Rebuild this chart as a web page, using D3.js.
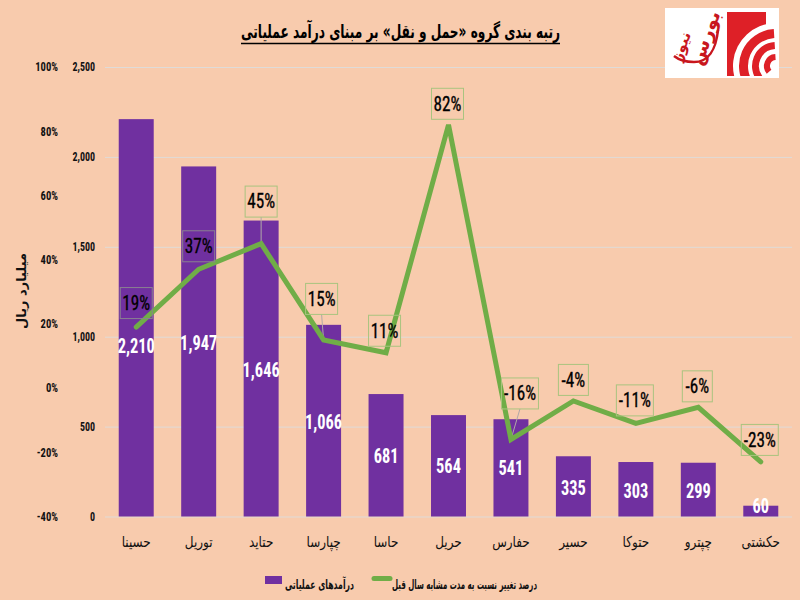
<!DOCTYPE html>
<html>
<head>
<meta charset="utf-8">
<script src="https://cdn.jsdelivr.net/npm/d3@7"></script>
<style>
html, body { margin: 0; padding: 0; background: #f8cbad; }
svg { display: block; }
text { font-family: "Liberation Sans Narrow", "Roboto Condensed", "Liberation Sans", sans-serif; }
.fa { font-family: "DejaVu Sans", "Noto Sans", sans-serif; font-weight: bold; }
</style>
</head>
<body>
<svg id="vis" width="800" height="600"></svg>
<script>
// values
var names = ['حسینا', 'توریل', 'حتاید', 'چپارسا', 'حاسا', 'حریل', 'حفارس', 'حسیر', 'حتوکا', 'چپترو', 'حکشتی'];
var revenue = [2210, 1947, 1646, 1066, 681, 564, 541, 335, 303, 299, 60];
var change = [19, 37, 45, 15, 11, 82, -16, -4, -11, -6, -23];
var revenueTicks = [0, 500, 1000, 1500, 2000, 2500];
var changeTicks = [-40, -20, 0, 20, 40, 60, 80, 100];

var titleText = 'رتبه بندی گروه «حمل و نقل» بر مبنای درآمد عملیاتی';
var yTitle = 'میلیارد ریال';
var legendBar = 'درآمدهای عملیاتی';
var legendLine = 'درصد تغییر نسبت به مدت مشابه سال قبل';
var logoWords = ['بورس', 'نیوز'];

// hand placed label boxes, relative to the line point (dx, dy of the box centre)
var boxShift = [[0, -24], [0, -23], [0, -42], [-2, -41], [-1.5, -22], [-1, -21], [9, -46], [0, -21], [-1, -23], [-1, -21], [-1, -22]];
var boxWidth = [32, 32, 32, 32, 32, 32, 37, 30, 37, 30, 37];
var boxHeight = 31;
var leaderIdx = [2, 3, 6]; // only these boxes have a leader line
var barLabelShift = [30, 3, 3, 3, 2, 2, 2, 3, 3, 3, -3]; // first and last were dragged in the original

var svg = d3.select('#vis');
var top_ = 67, bottom = 516.5;

var x = d3.scaleBand().domain(names).range([105, 792]).paddingInner(0.44).paddingOuter(0.22);
var y = d3.scaleLinear().domain([0, 2500]).range([bottom, top_]);
var y2 = d3.scaleLinear().domain([-40, 100]).range([bottom, top_]);
var cx = function(d) { return x(d) + x.bandwidth() / 2; };

// persian text is squeezed to the width it has in the picture
function squeeze(sel, width) {
	sel.attr('textLength', width).attr('lengthAdjust', 'spacingAndGlyphs');
	return sel;
}

// gridlines + left axis
var axisL = d3.axisLeft(y).tickValues(revenueTicks).tickFormat(d3.format(',')).tickSize(-687);
var gL = svg.append('g').attr('transform', 'translate(105,0)').call(axisL);
gL.select('.domain').remove();
gL.selectAll('line').attr('stroke', '#dfdbd8').attr('stroke-width', 1);
gL.selectAll('text').attr('x', -12).attr('transform', 'scale(0.83,1)')
	.attr('fill', '#111').style('font-size', '12px').style('font-weight', 'bold');

// percent axis
var axisP = d3.axisLeft(y2).tickValues(changeTicks).tickFormat(function(d) { return d + '%'; }).tickSize(0).tickPadding(0);
var gP = svg.append('g').attr('transform', 'translate(58,0)').call(axisP);
gP.select('.domain').remove();
gP.selectAll('text').attr('transform', 'scale(0.88,1)')
	.attr('fill', '#111').style('font-size', '12px').style('font-weight', 'bold');

// bars
svg.append('g').selectAll('rect').data(revenue).join('rect')
	.attr('x', function(d, i) { return x(names[i]); })
	.attr('y', function(d) { return y(d); })
	.attr('width', x.bandwidth())
	.attr('height', function(d) { return bottom - y(d); })
	.attr('fill', '#7030a0');

// bar labels
svg.append('g').selectAll('text').data(revenue).join('text')
	.attr('transform', function(d, i) {
		return 'translate(' + cx(names[i]) + ',' + ((y(d) + bottom) / 2 + barLabelShift[i]) + ') scale(0.82,1)';
	})
	.attr('text-anchor', 'middle').attr('dominant-baseline', 'middle')
	.attr('fill', '#fff').style('font-size', '20px').style('font-weight', 'bold')
	.text(d3.format(','));

// leader lines
svg.append('g').selectAll('line').data(leaderIdx).join('line')
	.attr('x1', function(i) { return cx(names[i]); })
	.attr('y1', function(i) { return y2(change[i]); })
	.attr('x2', function(i) { return cx(names[i]) + boxShift[i][0]; })
	.attr('y2', function(i) { return y2(change[i]) + boxShift[i][1] + boxHeight / 2; })
	.attr('stroke', '#b0a8a8').attr('stroke-width', 1);

// line
var line = d3.line().x(function(d, i) { return cx(names[i]); }).y(function(d) { return y2(d); });
svg.append('path').datum(change).attr('d', line)
	.attr('fill', 'none').attr('stroke', '#70ad47').attr('stroke-width', 5)
	.attr('stroke-linecap', 'round').attr('stroke-linejoin', 'miter');

// percent boxes
var boxes = svg.append('g').selectAll('g').data(change).join('g')
	.attr('transform', function(d, i) {
		return 'translate(' + (cx(names[i]) + boxShift[i][0]) + ',' + (y2(d) + boxShift[i][1]) + ')';
	});
boxes.append('rect')
	.attr('x', function(d, i) { return -boxWidth[i] / 2; }).attr('y', -boxHeight / 2)
	.attr('width', function(d, i) { return boxWidth[i]; }).attr('height', boxHeight)
	.attr('fill', 'none').attr('stroke', function(d, i) { return i < 2 ? '#8a8090' : '#a9c47f'; }).attr('stroke-width', 1);
boxes.append('text').attr('text-anchor', 'middle').attr('dominant-baseline', 'middle')
	.attr('transform', 'translate(0,1.5) scale(0.86,1)')
	.attr('fill', '#000').style('font-size', '20px').style('stroke', '#000').style('stroke-width', '0.3px')
	.text(function(d) { return d + '%'; });

// category labels
svg.append('g').selectAll('text').data(names).join('text')
	.attr('class', 'fa')
	.attr('transform', function(d) { return 'translate(' + cx(d) + ',547) scale(0.8,1)'; })
	.attr('text-anchor', 'middle').attr('fill', '#111').style('font-size', '15px').style('font-weight', 'normal')
	.text(function(d) { return d; });

// title
squeeze(svg.append('text').attr('class', 'fa').attr('x', 241).attr('y', 38)
	.attr('fill', '#000').style('font-size', '19px').text(titleText), 319);
svg.append('line').attr('x1', 241).attr('x2', 560).attr('y1', 43.5).attr('y2', 43.5).attr('stroke', '#000').attr('stroke-width', 1.5);

// y title
svg.append('text').attr('class', 'fa').attr('transform', 'translate(26,291) rotate(-90)')
	.attr('text-anchor', 'middle').attr('fill', '#111').style('font-size', '13px').text(yTitle);

// legend
svg.append('rect').attr('x', 265).attr('y', 576).attr('width', 17).attr('height', 8).attr('fill', '#7030a0');
squeeze(svg.append('text').attr('class', 'fa').attr('x', 285).attr('y', 589).attr('fill', '#111').style('font-size', '13px').text(legendBar), 69);
svg.append('line').attr('x1', 374).attr('x2', 390).attr('y1', 578.5).attr('y2', 578.5).attr('stroke', '#70ad47').attr('stroke-width', 5).attr('stroke-linecap', 'round');
squeeze(svg.append('text').attr('class', 'fa').attr('x', 392).attr('y', 589).attr('fill', '#111').style('font-size', '13px').text(legendLine), 145);

// logo
var logo = svg.append('g');
logo.append('rect').attr('x', 665).attr('y', 8).attr('width', 114).attr('height', 70).attr('fill', '#fff');
logo.append('clipPath').attr('id', 'logoClip').append('rect').attr('x', 665).attr('y', 8).attr('width', 114).attr('height', 68);
logo.append('rect').attr('x', 727).attr('y', 12).attr('width', 39).attr('height', 64).attr('fill', '#de2027');
var logoArcs = logo.append('g').attr('clip-path', 'url(#logoClip)');
var ring = d3.arc().startAngle(-Math.PI * 0.72).endAngle(-0.06);
logoArcs.append('path').attr('transform', 'translate(776,66)').attr('fill', '#fff')
	.attr('d', d3.arc().startAngle(-Math.PI * 0.8).endAngle(Math.PI * 0.1)({ innerRadius: 0, outerRadius: 43 }));
[[28, 37], [17, 24], [6, 12]].forEach(function(r) {
	logoArcs.append('path').attr('transform', 'translate(776,66)').attr('fill', '#de2027')
		.attr('d', ring({ innerRadius: r[0], outerRadius: r[1] }));
});
logo.append('path').attr('d', 'M718,30 C716,50 708,62 694,62 C685,62 679,60 674,56')
	.attr('fill', 'none').attr('stroke', '#c8161d').attr('stroke-width', 2.5);
logo.append('text').attr('class', 'fa').attr('transform', 'translate(711,40) rotate(-70)').attr('text-anchor', 'middle')
	.attr('fill', '#c8161d').style('font-size', '19px').text(logoWords[0]);
logo.append('text').attr('class', 'fa').attr('transform', 'translate(686,48) rotate(-70)').attr('text-anchor', 'middle')
	.attr('fill', '#c8161d').style('font-size', '15px').text(logoWords[1]);
</script>
</body>
</html>
